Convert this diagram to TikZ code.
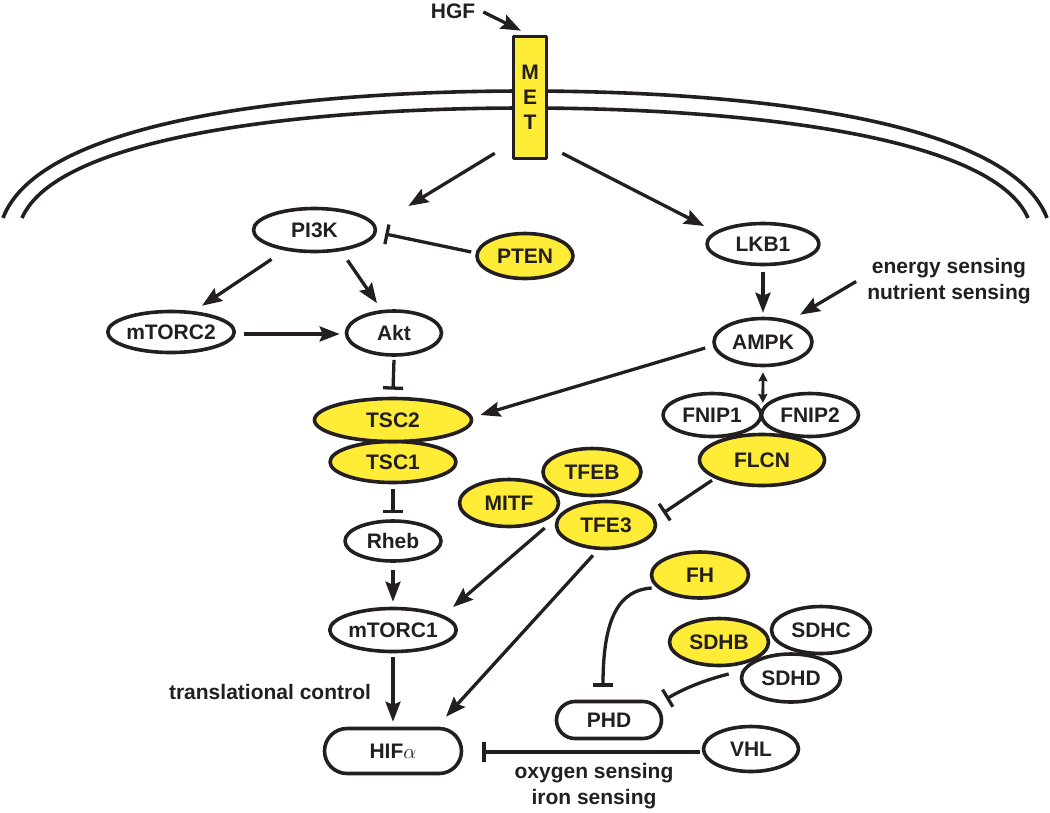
\documentclass[tikz,border=0pt]{standalone}
\usepackage{fontspec}
\setmainfont{Liberation Sans}
\usetikzlibrary{shapes.geometric,shapes.misc,arrows.meta}
\definecolor{gyellow}{RGB}{255,236,55}
\definecolor{ink}{RGB}{35,31,32}
\begin{document}
\begin{tikzpicture}[x=1pt, y=-1pt, font=\fontsize{21}{26}\selectfont\bfseries, line join=round, color=ink,
prot/.style={ellipse, draw=ink, line width=3.6pt, inner sep=0pt, text height=15pt, text depth=0pt},
yel/.style={prot, fill=gyellow},
pill/.style={rounded rectangle, draw=ink, line width=3.6pt, inner sep=0pt, text height=15pt, text depth=0pt},
sz/.style 2 args={minimum width=#1pt, minimum height=#2pt},
lbl/.style={align=center, inner sep=0pt},
act/.style={line width=3.3pt, -{Stealth[length=20pt,width=15pt,inset=3pt]}},
inh/.style={line width=3.3pt, -{Bar[width=20pt]}},
dbl/.style={line width=2.8pt, {Stealth[length=9pt,width=9pt,inset=1pt]}-{Stealth[length=9pt,width=9pt,inset=1pt]}}]
\useasboundingbox (0,0) rectangle (1050,812);
\draw[line width=3.6pt] (3,218) .. controls (40,120) and (300,91) .. (525,91) .. controls (750,91) and (1010,120) .. (1047,218);
\draw[line width=3.6pt] (22,218) .. controls (58,135) and (310,108) .. (525,108) .. controls (740,108) and (992,135) .. (1028,218);
\node[draw=ink, fill=gyellow, line width=3.6pt, sz={33}{122}, inner sep=0pt, align=center, font=\fontsize{21}{25}\selectfont\bfseries] (met) at (530,97.5) {M\\E\\T};
\node[lbl] (hgf) at (453,11) {HGF};
\node[prot, sz={122}{43}] (pi3k) at (314.5,230) {PI3K};
\node[yel, sz={96}{45}] (pten) at (525,256) {PTEN};
\node[prot, sz={125}{41}] (mtorc2) at (171,332) {mTORC2};
\node[prot, sz={95}{44}] (akt) at (394,333) {Akt};
\node[yel, sz={126}{41}] (tsc1) at (393,462) {TSC1};
\node[yel, sz={157}{43}] (tsc2) at (393,420) {TSC2};
\node[prot, sz={96}{40}] (rheb) at (393,541) {Rheb};
\node[prot, sz={122}{43}] (mtorc1) at (393,630) {mTORC1};
\node[pill, sz={137}{45}] (hif) at (393,751) {HIF$\alpha$};
\node[lbl] (trans) at (270,692) {translational control};
\node[prot, sz={112}{41}] (lkb1) at (763,244) {LKB1};
\node[prot, sz={98}{47}] (ampk) at (763,342) {AMPK};
\node[lbl] (ener) at (949,281.5) {energy sensing\\nutrient sensing};
\node[prot, sz={98}{43}] (fnip1) at (712,415) {FNIP1};
\node[prot, sz={97}{43}] (fnip2) at (810,415) {FNIP2};
\node[yel, sz={125}{51}] (flcn) at (762,460) {FLCN};
\node[yel, sz={98}{47}] (tfeb) at (592,472) {TFEB};
\node[yel, sz={99}{47}] (mitf) at (509,503) {MITF};
\node[yel, sz={99}{47}] (tfe3) at (606,525) {TFE3};
\node[yel, sz={97}{46}] (fh) at (700,575) {FH};
\node[yel, sz={99}{47}] (sdhb) at (719,642) {SDHB};
\node[prot, sz={99}{47}] (sdhc) at (821,630) {SDHC};
\node[prot, sz={99}{48}] (sdhd) at (791,678) {SDHD};
\node[pill, sz={105}{37}] (phd) at (609,720) {PHD};
\node[prot, sz={95}{45}] (vhl) at (751,749) {VHL};
\node[lbl] (oxy) at (594,786) {oxygen sensing\\iron sensing};
\draw[act] ([shift={(8,1)}]hgf.east) -- ([shift={(-9,-4)}]met.north);
\draw[act] ([shift={(-17,-7)}]met.south west) -- ([shift={(31,-24)}]pi3k.east);
\draw[act] ([shift={(14,-7)}]met.south east) -- ([shift={(-1,-18)}]lkb1.west);
\draw[inh] ([shift={(-4,-4)}]pten.west) -- ([shift={(8,4)}]pi3k.east);
\draw[act] ([shift={(-43,6)}]pi3k.south) -- ([shift={(31,-4)}]mtorc2.north);
\draw[act] ([shift={(33,7)}]pi3k.south) -- ([shift={(-17,-6)}]akt.north);
\draw[act] ([shift={(8,2)}]mtorc2.east) -- ([shift={(-5,1)}]akt.west);
\draw[inh] ([shift={(0,3)}]akt.south) -- ([shift={(0,-7)}]tsc2.north);
\draw[act] ([shift={(-7,6)}]ampk.west) -- ([shift={(7,-5)}]tsc2.east);
\draw[inh] ([shift={(0,5)}]tsc1.south) -- ([shift={(0,-6)}]rheb.north);
\draw[act] ([shift={(0,7)}]rheb.south) -- ([shift={(0,-5)}]mtorc1.north);
\draw[act] ([shift={(0,4)}]mtorc1.south) -- ([shift={(0,-5)}]hif.north);
\draw[act] ([shift={(0,6)}]lkb1.south) -- ([shift={(0,-4)}]ampk.north);
\draw[act] ([shift={(-11,0)}]ener.west) -- ([shift={(37,-2)}]ampk.north);
\draw[dbl] ([shift={(0,5)}]ampk.south) -- ([shift={(0,-12)}]fnip1.east);
\draw[inh] ([shift={(-50,-7)}]flcn.south) -- ([shift={(6,-12)}]tfe3.east);
\draw[act] ([shift={(-10,3)}]tfe3.west) -- ([shift={(-5,-23)}]mtorc1.east);
\draw[act] ([shift={(-13,5)}]tfe3.south) -- ([shift={(53,-10)}]hif.north);
\draw[inh] ([shift={(2,13)}]fh.west) .. controls +(-32,2) and +(0,-70) .. ([shift={(-6,-13)}]phd.north);
\draw[inh] ([shift={(-11,-4)}]sdhd.west) .. controls +(-20,5) and +(20,-12) .. ([shift={(3,-21)}]phd.east);
\draw[inh] ([shift={(-2,3)}]vhl.west) -- ([shift={(19,1)}]hif.east);
\end{tikzpicture}
\end{document}
